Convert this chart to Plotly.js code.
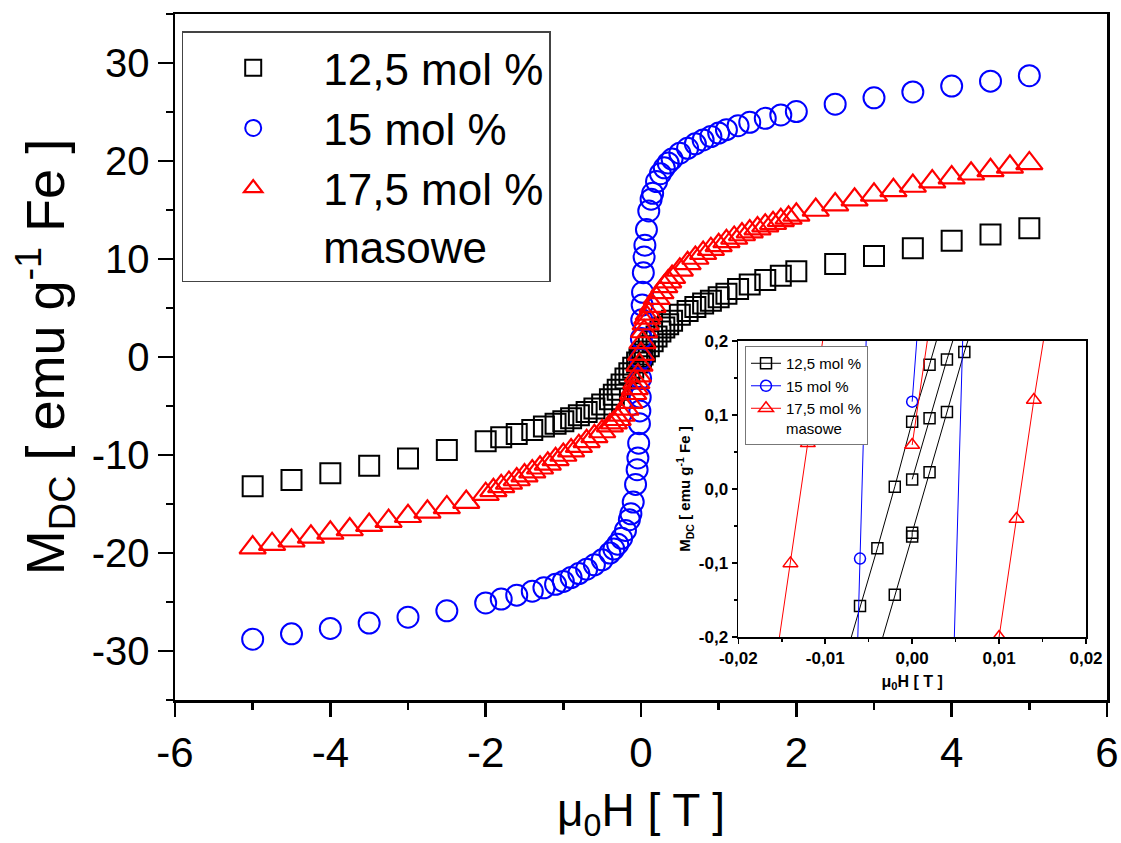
<!DOCTYPE html>
<html>
<head>
<meta charset="utf-8">
<script src="https://cdn.plot.ly/plotly-3.0.1.min.js"></script>
<style>html,body{margin:0;padding:0;background:#fff;}#chart{width:1121px;height:843px;}</style>
</head>
<body>
<div id="chart"></div>
<script>
// ---------- main panel data ----------
const fieldBlack = [-5,-4.5,-4,-3.5,-3,-2.5,-2,-1.8,-1.6,-1.4,-1.25,-1.1,-1,-0.9,-0.8,-0.7,-0.6,-0.5,-0.4,-0.35,-0.3,-0.25,-0.2,-0.15,-0.1,-0.05,-0.02,0,0.02,0.05,0.1,0.15,0.2,0.25,0.3,0.35,0.4,0.5,0.6,0.7,0.8,0.9,1,1.1,1.25,1.4,1.6,1.8,2,2.5,3,3.5,4,4.5,5];
const momentBlack = [-13.2,-12.55,-11.85,-11.1,-10.35,-9.5,-8.6,-8.2,-7.85,-7.45,-7.1,-6.8,-6.55,-6.25,-5.95,-5.6,-5.25,-4.85,-4.3,-3.85,-3.35,-2.8,-2.2,-1.65,-1.1,-0.55,-0.22,0.02,0.25,0.55,1.1,1.6,2.1,2.6,3.0,3.35,3.7,4.3,4.7,5.1,5.45,5.75,6.1,6.45,6.95,7.4,7.85,8.3,8.75,9.5,10.3,11.1,11.85,12.5,13.15];

const fieldBlue = [-5,-4.5,-4,-3.5,-3,-2.5,-2,-1.8,-1.6,-1.4,-1.25,-1.1,-1,-0.9,-0.8,-0.7,-0.6,-0.5,-0.4,-0.35,-0.3,-0.25,-0.2,-0.15,-0.13,-0.1,-0.07,-0.05,-0.04,-0.03,-0.02,-0.015,-0.01,-0.005,0,0.005,0.01,0.015,0.02,0.03,0.04,0.05,0.07,0.1,0.13,0.15,0.2,0.25,0.3,0.35,0.4,0.5,0.6,0.7,0.8,0.9,1,1.1,1.25,1.4,1.6,1.8,2,2.5,3,3.5,4,4.5,5];
const momentBlue = [-28.8,-28.25,-27.7,-27.15,-26.55,-25.9,-25.1,-24.7,-24.3,-23.9,-23.55,-23.2,-22.9,-22.5,-22.1,-21.65,-21.2,-20.7,-20.0,-19.6,-19.1,-18.5,-17.7,-16.6,-16.0,-14.8,-13.0,-11.5,-10.3,-8.8,-6.8,-5.5,-4.1,-2.2,-0.2,1.9,3.8,5.3,6.6,8.6,10.2,11.4,13.0,14.9,16.1,16.7,17.9,18.7,19.3,19.8,20.2,20.8,21.3,21.75,22.15,22.5,22.85,23.2,23.6,23.95,24.35,24.7,25.05,25.8,26.45,27.05,27.65,28.15,28.7];

const fieldRed = [-5,-4.75,-4.5,-4.25,-4,-3.75,-3.5,-3.25,-3,-2.75,-2.5,-2.25,-2,-1.9,-1.8,-1.7,-1.6,-1.5,-1.4,-1.3,-1.2,-1.1,-1,-0.9,-0.8,-0.7,-0.6,-0.5,-0.4,-0.35,-0.3,-0.25,-0.2,-0.15,-0.1,-0.08,-0.06,-0.04,-0.02,0,0.02,0.04,0.06,0.08,0.1,0.15,0.2,0.25,0.3,0.35,0.4,0.5,0.6,0.7,0.8,0.9,1,1.1,1.2,1.3,1.4,1.5,1.6,1.7,1.8,1.9,2,2.25,2.5,2.75,3,3.25,3.5,3.75,4,4.25,4.5,4.75,5];
const momentRed = [-19.45,-19.1,-18.75,-18.35,-17.95,-17.6,-17.15,-16.75,-16.25,-15.8,-15.35,-14.8,-14.0,-13.6,-13.2,-12.85,-12.5,-12.1,-11.7,-11.3,-10.9,-10.45,-10.0,-9.55,-9.1,-8.6,-8.1,-7.6,-7.0,-6.7,-6.35,-5.9,-5.3,-4.6,-3.7,-3.2,-2.6,-1.9,-0.8,0.3,1.5,2.6,3.4,4.0,4.4,5.2,6.0,6.6,7.2,7.7,8.15,8.9,9.55,10.1,10.6,11.0,11.4,11.8,12.15,12.5,12.8,13.1,13.4,13.65,13.95,14.2,14.5,15.0,15.55,16.05,16.55,17.0,17.45,17.9,18.3,18.7,19.05,19.4,19.75];

// ---------- inset data (branches of the loop near zero field) ----------
const insetBlackDescX = [0.004,0.002,0.000,-0.002,-0.004,-0.006,-0.008];
const insetBlackDescY = [0.250,0.168,0.091,0.003,-0.080,-0.158,-0.240];
const insetBlackAscX = [-0.004,-0.002,0.000,0.000,0.002,0.004,0.006,0.008];
const insetBlackAscY = [-0.225,-0.143,-0.064,-0.059,0.0225,0.104,0.185,0.260];
const insetBlackVirginX = [0.000,0.002,0.004,0.006];
const insetBlackVirginY = [0.013,0.0955,0.175,0.250];

const insetBlueDescX = [-0.004,-0.006,-0.008];
const insetBlueDescY = [0.740,-0.094,-0.930];
const insetBlueAscX = [0.004,0.006];
const insetBlueAscY = [-0.554,0.279];
const insetBlueVirginX = [0.000,0.002];
const insetBlueVirginY = [0.118,0.430];

const insetRedDescX = [-0.010,-0.012,-0.014,-0.016];
const insetRedDescY = [0.224,0.0617,-0.1005,-0.259];
const insetRedAscX = [0.008,0.010,0.012,0.014,0.016];
const insetRedAscY = [-0.360,-0.200,-0.0405,0.1203,0.266];
const insetRedVirginX = [0.000,0.002];
const insetRedVirginY = [0.0595,0.221];

// ---------- labels ----------
const seriesNames = ['12,5 mol %', '15 mol %', '17,5 mol %<br>masowe'];
const mainXTickVals = [-6,-4,-2,0,2,4,6];
const mainXTickText = ['-6','-4','-2','0','2','4','6'];
const mainYTickVals = [-30,-20,-10,0,10,20,30];
const mainYTickText = ['-30','-20','-10','0','10','20','30'];
const insetXTickVals = [-0.02,-0.01,0,0.01,0.02];
const insetXTickText = ['-0,02','-0,01','0,00','0,01','0,02'];
const insetYTickVals = [-0.2,-0.1,0,0.1,0.2];
const insetYTickText = ['-0,2','-0,1','0,0','0,1','0,2'];

function joinBranches(list) {
  const out = [];
  list.forEach((arr, i) => { if (i) out.push(null); out.push(...arr); });
  return out;
}

const FONT = 'Liberation Sans, Arial, sans-serif';
const BLACK = '#000000', BLUE = '#0000ff', RED = '#ff0000';

const traces = [
  {x: fieldBlack, y: momentBlack, name: seriesNames[0], type: 'scatter', mode: 'markers',
   marker: {symbol: 'square-open', size: 20, color: BLACK, line: {width: 2, color: BLACK}},
   xaxis: 'x', yaxis: 'y', legend: 'legend'},
  {x: fieldBlue, y: momentBlue, name: seriesNames[1], type: 'scatter', mode: 'markers',
   marker: {symbol: 'circle-open', size: 21, color: BLUE, line: {width: 2, color: BLUE}},
   xaxis: 'x', yaxis: 'y', legend: 'legend'},
  {x: fieldRed, y: momentRed, name: seriesNames[2], type: 'scatter', mode: 'markers',
   marker: {symbol: 'triangle-up-open', size: 23, color: RED, line: {width: 2.2, color: RED}},
   xaxis: 'x', yaxis: 'y', legend: 'legend'},

  {x: joinBranches([insetBlackDescX, insetBlackAscX, insetBlackVirginX]),
   y: joinBranches([insetBlackDescY, insetBlackAscY, insetBlackVirginY]),
   name: seriesNames[0], type: 'scatter', mode: 'lines+markers', connectgaps: false,
   line: {color: BLACK, width: 1},
   marker: {symbol: 'square-open', size: 11, color: BLACK, line: {width: 1.5, color: BLACK}},
   xaxis: 'x2', yaxis: 'y2', legend: 'legend2'},
  {x: joinBranches([insetBlueDescX, insetBlueAscX, insetBlueVirginX]),
   y: joinBranches([insetBlueDescY, insetBlueAscY, insetBlueVirginY]),
   name: seriesNames[1], type: 'scatter', mode: 'lines+markers', connectgaps: false,
   line: {color: BLUE, width: 1},
   marker: {symbol: 'circle-open', size: 11, color: BLUE, line: {width: 1.5, color: BLUE}},
   xaxis: 'x2', yaxis: 'y2', legend: 'legend2'},
  {x: joinBranches([insetRedDescX, insetRedAscX, insetRedVirginX]),
   y: joinBranches([insetRedDescY, insetRedAscY, insetRedVirginY]),
   name: seriesNames[2], type: 'scatter', mode: 'lines+markers', connectgaps: false,
   line: {color: RED, width: 1},
   marker: {symbol: 'triangle-up-open', size: 13, color: RED, line: {width: 1.5, color: RED}},
   xaxis: 'x2', yaxis: 'y2', legend: 'legend2'}
];

const layout = {
  width: 1121, height: 843,
  margin: {l: 175, r: 14, t: 14, b: 143},
  paper_bgcolor: '#ffffff', plot_bgcolor: '#ffffff',
  font: {family: FONT, color: BLACK},
  showlegend: true,
  xaxis: {
    domain: [0, 1], anchor: 'y', range: [-6, 6],
    tickmode: 'array', tickvals: mainXTickVals, ticktext: mainXTickText,
    ticks: 'outside', ticklen: 14, tickwidth: 2.5, tickcolor: BLACK,
    minor: {tickmode: 'linear', tick0: 0, dtick: 1, ticks: 'outside', ticklen: 7, tickwidth: 2.5, tickcolor: BLACK},
    showline: true, linewidth: 2.5, linecolor: BLACK, mirror: true,
    showgrid: false, zeroline: false,
    tickfont: {size: 42, family: FONT, color: BLACK},
    title: {text: 'μ<sub>0</sub>H [ T ]', font: {size: 46, family: FONT, color: BLACK}, standoff: 20}
  },
  yaxis: {
    domain: [0, 1], anchor: 'x', range: [-35, 35],
    tickmode: 'array', tickvals: mainYTickVals, ticktext: mainYTickText,
    ticks: 'outside', ticklen: 15, tickwidth: 2.5, tickcolor: BLACK,
    minor: {tickmode: 'linear', tick0: 0, dtick: 5, ticks: 'outside', ticklen: 7, tickwidth: 2.5, tickcolor: BLACK},
    showline: true, linewidth: 2.5, linecolor: BLACK, mirror: true,
    showgrid: false, zeroline: false,
    tickfont: {size: 40, family: FONT, color: BLACK},
    title: {text: 'M<sub>DC</sub> [ emu g<sup>-1</sup> Fe ]', font: {size: 54, family: FONT, color: BLACK}, standoff: 10}
  },
  xaxis2: {
    domain: [0.6044, 0.9775], anchor: 'y2', range: [-0.02, 0.02],
    tickmode: 'array', tickvals: insetXTickVals, ticktext: insetXTickText,
    ticks: 'outside', ticklen: 5, tickwidth: 1.5, tickcolor: BLACK,
    minor: {tickmode: 'linear', tick0: 0, dtick: 0.005, ticks: 'outside', ticklen: 3, tickwidth: 1.5, tickcolor: BLACK},
    showline: true, linewidth: 1.8, linecolor: BLACK, mirror: true,
    showgrid: false, zeroline: false,
    tickfont: {size: 17, family: FONT, color: BLACK, weight: 'bold'},
    title: {text: 'μ<sub>0</sub>H [ T ]', font: {size: 16, family: FONT, color: BLACK, weight: 'bold'}, standoff: 8}
  },
  yaxis2: {
    domain: [0.0918, 0.5233], anchor: 'x2', range: [-0.2, 0.2],
    tickmode: 'array', tickvals: insetYTickVals, ticktext: insetYTickText,
    ticks: 'outside', ticklen: 5, tickwidth: 1.5, tickcolor: BLACK,
    minor: {tickmode: 'linear', tick0: 0, dtick: 0.05, ticks: 'outside', ticklen: 3, tickwidth: 1.5, tickcolor: BLACK},
    showline: true, linewidth: 1.8, linecolor: BLACK, mirror: true,
    showgrid: false, zeroline: false,
    tickfont: {size: 17, family: FONT, color: BLACK, weight: 'bold'},
    title: {text: 'M<sub>DC</sub> [ emu g<sup>-1</sup> Fe ]', font: {size: 15, family: FONT, color: BLACK, weight: 'bold'}, standoff: 4}
  },
  legend: {
    x: 0.0072, y: 0.975, xanchor: 'left', yanchor: 'top',
    bgcolor: '#ffffff', bordercolor: '#444444', borderwidth: 1.5,
    font: {size: 44, family: FONT, color: BLACK},
    itemwidth: 130, valign: 'top', tracegroupgap: 0, itemsizing: 'trace'
  },
  legend2: {
    x: 0.6116, y: 0.516, xanchor: 'left', yanchor: 'top',
    bgcolor: '#ffffff', bordercolor: '#777777', borderwidth: 1,
    font: {size: 15, family: FONT, color: BLACK},
    itemwidth: 30, valign: 'top', tracegroupgap: 0
  }
};

Plotly.newPlot('chart', traces, layout, {displayModeBar: false, staticPlot: true});
</script>
</body>
</html>
